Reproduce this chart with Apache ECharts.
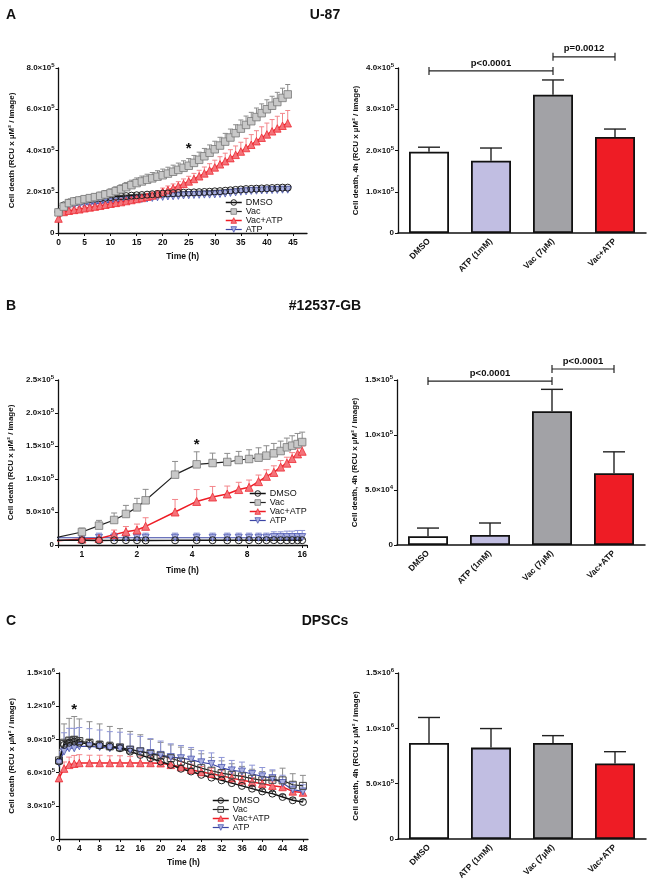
<!DOCTYPE html>
<html><head><meta charset="utf-8">
<script src="https://cdn.jsdelivr.net/npm/echarts@6/dist/echarts.min.js"></script>
<style>html,body{margin:0;padding:0;background:#fff}#c{width:650px;height:889px}</style>
</head><body><div id="c"></div>
<script>
// ---------- DATA ----------
const groups = ['DMSO', 'ATP (1mM)', 'Vac (7µM)', 'Vac+ATP'];
const legendNames = ['DMSO', 'Vac', 'Vac+ATP', 'ATP'];

// Panel A (U-87) time course
const aTime = [0,1,2,3,4,5,6,7,8,9,10,11,12,13,14,15,16,17,18,19,20,21,22,23,24,25,26,27,28,29,30,31,32,33,34,35,36,37,38,39,40,41,42,43,44];
const aDMSO = [1.02e5,1.34e5,1.48e5,1.54e5,1.58e5,1.61e5,1.64e5,1.66e5,1.69e5,1.71e5,1.74e5,1.76e5,1.78e5,1.79e5,1.81e5,1.83e5,1.84e5,1.86e5,1.88e5,1.89e5,1.91e5,1.92e5,1.93e5,1.94e5,1.95e5,1.96e5,1.97e5,1.98e5,1.99e5,2.00e5,2.02e5,2.03e5,2.05e5,2.07e5,2.09e5,2.11e5,2.13e5,2.14e5,2.15e5,2.16e5,2.17e5,2.18e5,2.19e5,2.20e5,2.20e5];
const aDMSOErr = [0.05e5,0.06e5,0.06e5,0.05e5,0.05e5,0.05e5,0.05e5,0.05e5,0.05e5,0.05e5,0.05e5,0.05e5,0.05e5,0.05e5,0.05e5,0.05e5,0.05e5,0.05e5,0.05e5,0.05e5,0.05e5,0.05e5,0.05e5,0.05e5,0.05e5,0.05e5,0.05e5,0.05e5,0.05e5,0.05e5,0.05e5,0.05e5,0.05e5,0.05e5,0.05e5,0.05e5,0.05e5,0.05e5,0.05e5,0.05e5,0.05e5,0.05e5,0.05e5,0.05e5,0.05e5];
const aVac = [1.00e5,1.28e5,1.45e5,1.53e5,1.58e5,1.64e5,1.69e5,1.74e5,1.80e5,1.87e5,1.94e5,2.03e5,2.12e5,2.22e5,2.32e5,2.42e5,2.50e5,2.58e5,2.65e5,2.73e5,2.80e5,2.88e5,2.97e5,3.06e5,3.16e5,3.26e5,3.40e5,3.55e5,3.72e5,3.89e5,4.06e5,4.24e5,4.43e5,4.63e5,4.84e5,5.06e5,5.24e5,5.42e5,5.62e5,5.81e5,6.00e5,6.17e5,6.35e5,6.55e5,6.72e5];
const aVacErr = [0.08e5,0.10e5,0.12e5,0.13e5,0.14e5,0.15e5,0.16e5,0.17e5,0.18e5,0.19e5,0.20e5,0.21e5,0.22e5,0.23e5,0.24e5,0.25e5,0.26e5,0.27e5,0.28e5,0.29e5,0.30e5,0.31e5,0.32e5,0.33e5,0.34e5,0.35e5,0.36e5,0.37e5,0.38e5,0.38e5,0.39e5,0.40e5,0.40e5,0.41e5,0.41e5,0.42e5,0.43e5,0.43e5,0.44e5,0.45e5,0.46e5,0.46e5,0.47e5,0.47e5,0.48e5];
const aVacATP = [0.70e5,1.02e5,1.08e5,1.12e5,1.15e5,1.20e5,1.24e5,1.28e5,1.32e5,1.37e5,1.42e5,1.46e5,1.50e5,1.55e5,1.60e5,1.65e5,1.70e5,1.76e5,1.82e5,1.89e5,2.00e5,2.08e5,2.17e5,2.27e5,2.38e5,2.50e5,2.62e5,2.75e5,2.89e5,3.03e5,3.18e5,3.33e5,3.48e5,3.63e5,3.79e5,3.95e5,4.12e5,4.28e5,4.45e5,4.62e5,4.78e5,4.93e5,5.07e5,5.20e5,5.32e5];
const aVacATPErr = [0.05e5,0.07e5,0.08e5,0.08e5,0.09e5,0.09e5,0.10e5,0.10e5,0.11e5,0.11e5,0.12e5,0.12e5,0.13e5,0.13e5,0.14e5,0.14e5,0.15e5,0.16e5,0.16e5,0.17e5,0.18e5,0.20e5,0.21e5,0.22e5,0.24e5,0.25e5,0.27e5,0.29e5,0.31e5,0.33e5,0.35e5,0.37e5,0.39e5,0.41e5,0.43e5,0.45e5,0.47e5,0.49e5,0.51e5,0.53e5,0.55e5,0.57e5,0.59e5,0.60e5,0.62e5];
const aATP = [0.94e5,1.18e5,1.28e5,1.33e5,1.36e5,1.39e5,1.41e5,1.43e5,1.45e5,1.47e5,1.50e5,1.52e5,1.54e5,1.57e5,1.60e5,1.63e5,1.65e5,1.67e5,1.70e5,1.73e5,1.75e5,1.77e5,1.78e5,1.80e5,1.82e5,1.83e5,1.84e5,1.85e5,1.86e5,1.86e5,1.87e5,1.89e5,1.91e5,1.94e5,1.97e5,2.00e5,2.02e5,2.04e5,2.05e5,2.06e5,2.07e5,2.08e5,2.09e5,2.10e5,2.10e5];
const aATPErr = [0.05e5,0.05e5,0.05e5,0.05e5,0.05e5,0.05e5,0.05e5,0.05e5,0.05e5,0.05e5,0.05e5,0.05e5,0.05e5,0.05e5,0.05e5,0.05e5,0.05e5,0.05e5,0.05e5,0.05e5,0.05e5,0.05e5,0.05e5,0.05e5,0.05e5,0.05e5,0.05e5,0.05e5,0.05e5,0.05e5,0.05e5,0.05e5,0.05e5,0.05e5,0.05e5,0.05e5,0.05e5,0.05e5,0.05e5,0.05e5,0.05e5,0.05e5,0.05e5,0.05e5,0.05e5];
const aXTicks = [0,5,10,15,20,25,30,35,40,45];
const aStar = [[25, 4.1e5]];

// Panel A bars
const aBar = [1.97e5, 1.75e5, 3.35e5, 2.33e5];
const aBarErr = [0.11e5, 0.31e5, 0.36e5, 0.19e5];
const aSigPairs = [[0, 2], [2, 3]];
const aSigY = [3.93e5, 4.27e5];
const aSigText = ['p<0.0001', 'p=0.0012'];

// Panel B (#12537-GB) time course (log2 time axis)
const bTime = [0.5,1,1.24,1.5,1.74,2,2.23,3.23,4.24,5.18,6.23,7.2,8.2,9.24,10.2,11.2,12.2,13.2,14.1,15.1,16];
const bDMSO = [7.0e3,7.2e3,7.0e3,7.1e3,7.3e3,7.2e3,7.0e3,7.1e3,7.3e3,7.2e3,7.1e3,7.2e3,7.3e3,7.1e3,7.2e3,7.3e3,7.2e3,7.1e3,7.3e3,7.2e3,7.2e3];
const bDMSOErr = [0,2e3,2e3,2e3,2e3,2e3,2e3,2e3,2e3,2e3,2e3,2e3,2e3,2e3,2e3,2e3,2e3,2e3,2e3,2e3,2e3];
const bVac = [2.0e3,1.97e4,2.93e4,3.79e4,4.70e4,5.70e4,6.77e4,1.066e5,1.222e5,1.242e5,1.258e5,1.288e5,1.303e5,1.323e5,1.354e5,1.389e5,1.424e5,1.48e5,1.505e5,1.53e5,1.56e5];
const bVacErr = [0,6e3,8e3,1.06e4,1.3e4,1.37e4,1.66e4,2.0e4,1.9e4,1.5e4,1.3e4,1.3e4,1.4e4,1.5e4,1.5e4,1.5e4,1.5e4,1.4e4,1.5e4,1.6e4,1.5e4];
const bVacATP = [3.0e3,9.0e3,1.0e4,1.57e4,2.0e4,2.27e4,2.83e4,5.0e4,6.6e4,7.27e4,7.73e4,8.4e4,8.74e4,9.6e4,1.04e5,1.10e5,1.18e5,1.24e5,1.31e5,1.38e5,1.42e5];
const bVacATPErr = [0,3e3,5e3,7e3,8e3,9e3,1.3e4,1.9e4,1.8e4,1.6e4,1.2e4,1.1e4,1.1e4,1.0e4,1.0e4,1.0e4,1.0e4,9e3,9e3,8e3,8e3];
const bATP = [1.1e4,1.1e4,1.1e4,1.1e4,1.1e4,1.1e4,1.1e4,1.1e4,1.1e4,1.1e4,1.1e4,1.1e4,1.1e4,1.1e4,1.1e4,1.2e4,1.2e4,1.2e4,1.2e4,1.2e4,1.2e4];
const bATPErr = [0,7e3,7e3,7e3,7e3,7e3,7e3,7e3,7e3,7e3,7e3,7e3,7e3,7e3,7e3,8e3,8e3,9e3,9e3,1.0e4,1.0e4];
const bXTicks = [1,2,4,8,16];
const bStar = [[4.24, 1.52e5]];

// Panel B bars
const bBar = [7.9e3, 9.1e3, 1.216e5, 6.53e4];
const bBarErr = [7.5e3, 1.09e4, 1.99e4, 1.94e4];
const bSigPairs = [[0, 2], [2, 3]];
const bSigY = [1.49e5, 1.60e5];
const bSigText = ['p<0.0001', 'p<0.0001'];

// Panel C (DPSCs) time course
const cTime = [0,1,2,3,4,6,8,10,12,14,16,18,20,22,24,26,28,30,32,34,36,38,40,42,44,46,48];
const cDMSO = [7.0e5,8.5e5,8.7e5,8.8e5,8.7e5,8.6e5,8.45e5,8.35e5,8.2e5,7.9e5,7.6e5,7.3e5,7.0e5,6.7e5,6.35e5,6.1e5,5.8e5,5.55e5,5.3e5,5.05e5,4.8e5,4.55e5,4.3e5,4.1e5,3.8e5,3.5e5,3.35e5];
const cDMSOErr = [0.3e5,0.4e5,0.45e5,0.45e5,0.45e5,0.4e5,0.4e5,0.4e5,0.35e5,0.35e5,0.35e5,0.3e5,0.3e5,0.3e5,0.3e5,0.3e5,0.25e5,0.25e5,0.25e5,0.25e5,0.25e5,0.2e5,0.2e5,0.2e5,0.2e5,0.2e5,0.2e5];
const cVac = [7.1e5,8.7e5,8.9e5,8.97e5,8.85e5,8.7e5,8.5e5,8.37e5,8.28e5,8.07e5,7.92e5,7.7e5,7.53e5,7.3e5,7.0e5,6.7e5,6.4e5,6.17e5,5.96e5,5.8e5,5.66e5,5.45e5,5.3e5,5.35e5,5.3e5,4.9e5,4.8e5];
const cVacErr = [1.0e5,1.7e5,2.0e5,2.1e5,2.0e5,1.9e5,1.9e5,1.8e5,1.7e5,1.65e5,1.5e5,1.3e5,1.2e5,1.2e5,1.3e5,1.4e5,1.3e5,1.2e5,1.1e5,1.0e5,0.9e5,0.85e5,0.8e5,0.8e5,1.1e5,1.0e5,0.95e5];
const cVacATP = [5.5e5,6.36e5,6.7e5,6.8e5,6.87e5,6.87e5,6.87e5,6.87e5,6.87e5,6.87e5,6.87e5,6.87e5,6.85e5,6.7e5,6.5e5,6.26e5,6.05e5,5.9e5,5.72e5,5.5e5,5.3e5,5.15e5,5.0e5,4.82e5,4.7e5,4.3e5,4.2e5];
const cVacATPErr = [0.5e5,0.6e5,0.7e5,0.75e5,0.75e5,0.7e5,0.7e5,0.65e5,0.65e5,0.6e5,0.6e5,0.6e5,0.55e5,0.55e5,0.5e5,0.5e5,0.5e5,0.5e5,0.45e5,0.45e5,0.45e5,0.4e5,0.4e5,0.4e5,0.4e5,0.35e5,0.35e5];
const cATP = [6.87e5,7.9e5,8.2e5,8.2e5,8.37e5,8.37e5,8.3e5,8.2e5,8.2e5,8.07e5,7.92e5,7.77e5,7.6e5,7.4e5,7.3e5,7.17e5,6.93e5,6.78e5,6.42e5,6.2e5,6.1e5,5.87e5,5.66e5,5.5e5,5.06e5,4.46e5,4.3e5];
const cATPErr = [1.0e5,1.7e5,1.8e5,1.8e5,1.7e5,1.6e5,1.55e5,1.5e5,1.45e5,1.4e5,1.35e5,1.3e5,1.25e5,1.2e5,1.15e5,1.1e5,1.05e5,1.0e5,0.95e5,0.9e5,0.85e5,0.8e5,0.8e5,0.75e5,0.7e5,0.65e5,0.6e5];
const cXTicks = [0,4,8,12,16,20,24,28,32,36,40,44,48];
const cStar = [[3, 1.17e6]];

// Panel C bars
const cBar = [8.68e5, 8.26e5, 8.68e5, 6.83e5];
const cBarErr = [2.3e5, 1.72e5, 0.66e5, 1.06e5];

// ---------- STYLE / BUILD ----------
const FONT = 'Liberation Sans, Arial, Helvetica, sans-serif';
const INK = '#111';
const barColors = ['#ffffff', '#c1bee2', '#a2a2a6', '#ee1c25'];
const downTri = 'path://M0,0 L10,0 L5,9 Z';

function sci(v) {
  if (v === 0) return '0';
  const e = Math.floor(Math.log10(v) + 1e-9);
  const m = v / Math.pow(10, e);
  return m.toFixed(1) + '×10{s|' + e + '}';
}
const supRich = { s: { fontSize: 6, fontWeight: 'bold', fontFamily: FONT, color: INK, verticalAlign: 'top', padding: [0, 0, 5, 0] } };

function yAx(gi, max, interval, name, gap) {
  return {
    gridIndex: gi, type: 'value', min: 0, max: max, interval: interval,
    name: name, nameLocation: 'middle', nameGap: gap, nameMoveOverlap: false,
    nameTextStyle: { fontSize: 8, fontWeight: 'bold', color: INK, fontFamily: FONT },
    axisLine: { show: true, lineStyle: { color: INK, width: 1.3 } },
    axisTick: { show: true, inside: false, length: 3, lineStyle: { color: INK, width: 1 } },
    axisLabel: { formatter: sci, fontSize: 8, fontWeight: 'bold', color: INK, fontFamily: FONT, margin: 4, rich: supRich },
    splitLine: { show: false }
  };
}
function xValAx(gi, max, interval, ticks) {
  return {
    gridIndex: gi, type: 'value', min: 0, max: max, interval: interval,
    name: 'Time (h)', nameLocation: 'middle', nameGap: 19, nameMoveOverlap: false,
    nameTextStyle: { fontSize: 8.5, fontWeight: 'bold', color: INK, fontFamily: FONT },
    axisLine: { show: true, onZero: false, lineStyle: { color: INK, width: 1.3 } },
    axisTick: { show: true, length: 3, lineStyle: { color: INK, width: 1 }, customValues: ticks },
    axisLabel: { fontSize: 8.5, fontWeight: 'bold', color: INK, fontFamily: FONT, margin: 5, customValues: ticks,
      formatter: v => (ticks.indexOf(v) >= 0 ? String(v) : '') },
    splitLine: { show: false }
  };
}
function xLogAx(gi, min, max, ticks) {
  return {
    gridIndex: gi, type: 'log', logBase: 2, min: min, max: max,
    name: 'Time (h)', nameLocation: 'middle', nameGap: 21, nameMoveOverlap: false,
    nameTextStyle: { fontSize: 8.5, fontWeight: 'bold', color: INK, fontFamily: FONT },
    axisLine: { show: true, onZero: false, lineStyle: { color: INK, width: 1.3 } },
    axisTick: { show: true, length: 3, lineStyle: { color: INK, width: 1 } },
    axisLabel: { fontSize: 8.5, fontWeight: 'bold', color: INK, fontFamily: FONT, margin: 5,
      formatter: v => { for (const t of ticks) { if (Math.abs(v - t) < 1e-6 * t) return String(t); } return ''; } },
    splitLine: { show: false }
  };
}
function xCatAx(gi) {
  return {
    gridIndex: gi, type: 'category', data: groups,
    axisLine: { show: true, lineStyle: { color: INK, width: 1.5 } },
    axisTick: { show: false },
    axisLabel: { interval: 0, rotate: 45, fontSize: 8.5, fontWeight: 'bold', color: INK, fontFamily: FONT, margin: 7 },
    splitLine: { show: false }
  };
}

const styles = {
  DMSO: { symbol: 'circle', item: { color: 'rgba(255,255,255,0)', borderColor: '#222', borderWidth: 1 }, line: { color: '#111', width: 1.5 }, err: '#444' },
  Vac: { symbol: 'rect', item: { color: '#c8c8c8', borderColor: '#777', borderWidth: 0.8 }, line: { color: '#222', width: 1.2 }, err: '#8c8c8c' },
  VacOpen: { symbol: 'rect', item: { color: 'rgba(255,255,255,0)', borderColor: '#444', borderWidth: 1 }, line: { color: '#222', width: 1.2 }, err: '#8c8c8c' },
  'Vac+ATP': { symbol: 'triangle', item: { color: '#f4737a', borderColor: '#ee2a32', borderWidth: 0.8 }, line: { color: '#ee1c25', width: 1.5 }, err: '#f3858a' },
  ATP: { symbol: downTri, item: { color: '#aab0e0', borderColor: '#4a55b0', borderWidth: 0.8 }, line: { color: '#3b45a5', width: 1.2 }, err: '#8e95d6' }
};

function lineSer(name, panel, gi, xs, ys, st, size) {
  return {
    name: name + '|' + panel, type: 'line', xAxisIndex: gi, yAxisIndex: gi,
    data: xs.map((x, i) => [x, ys[i]]),
    symbol: st.symbol, symbolSize: size, showSymbol: true, showAllSymbol: true,
    itemStyle: st.item, lineStyle: st.line, clip: true, animation: false, z: 3
  };
}
function errSer(gi, xs, ys, es, color, cap) {
  return {
    type: 'custom', xAxisIndex: gi, yAxisIndex: gi, animation: false, z: 2, silent: true, clip: true,
    data: xs.map((x, i) => [x, ys[i], es[i]]),
    encode: { x: 0, y: 1 },
    renderItem: function (params, api) {
      const x = api.value(0), y = api.value(1), e = api.value(2);
      if (!e) return null;
      const p0 = api.coord([x, y]), p1 = api.coord([x, y + e]);
      return { type: 'group', children: [
        { type: 'line', shape: { x1: p0[0], y1: p0[1], x2: p1[0], y2: p1[1] }, style: { stroke: color, lineWidth: 1 } },
        { type: 'line', shape: { x1: p1[0] - cap, y1: p1[1], x2: p1[0] + cap, y2: p1[1] }, style: { stroke: color, lineWidth: 1 } }
      ] };
    }
  };
}
function starSer(gi, pts) {
  return {
    type: 'custom', xAxisIndex: gi, yAxisIndex: gi, animation: false, z: 5, silent: true, clip: false,
    data: pts, encode: { x: 0, y: 1 },
    renderItem: function (params, api) {
      const p = api.coord([api.value(0), api.value(1)]);
      return { type: 'text', x: p[0], y: p[1], style: { text: '*', textAlign: 'center', textVerticalAlign: 'middle', verticalAlign: 'middle', fontSize: 15, fontWeight: 'bold', fontFamily: FONT, fill: INK } };
    }
  };
}
function barSer(gi, vals) {
  return {
    type: 'bar', xAxisIndex: gi, yAxisIndex: gi, barWidth: 40, animation: false, z: 2,
    data: vals.map((v, i) => ({ value: v, itemStyle: { color: barColors[i], borderColor: '#111', borderWidth: 1.8 } }))
  };
}
function barErrSer(gi, vals, errs) {
  return {
    type: 'custom', xAxisIndex: gi, yAxisIndex: gi, animation: false, z: 1, silent: true, clip: false,
    data: vals.map((v, i) => [i, v, errs[i]]), encode: { x: 0, y: 1 },
    renderItem: function (params, api) {
      const x = api.value(0), y = api.value(1), e = api.value(2);
      const p0 = api.coord([x, y]), p1 = api.coord([x, y + e]);
      return { type: 'group', children: [
        { type: 'line', shape: { x1: p0[0], y1: p0[1], x2: p1[0], y2: p1[1] }, style: { stroke: '#222', lineWidth: 1.4 } },
        { type: 'line', shape: { x1: p1[0] - 11, y1: p1[1], x2: p1[0] + 11, y2: p1[1] }, style: { stroke: '#222', lineWidth: 1.4 } }
      ] };
    }
  };
}
function sigSer(gi, pairs, ys, texts) {
  return {
    type: 'custom', xAxisIndex: gi, yAxisIndex: gi, animation: false, z: 5, silent: true, clip: false,
    data: pairs.map((p, i) => [p[0], p[1], ys[i]]), encode: { x: [0, 1], y: 2 },
    renderItem: function (params, api) {
      const a = api.coord([api.value(0), api.value(2)]);
      const b = api.coord([api.value(1), api.value(2)]);
      const t = texts[params.dataIndex];
      const s = { stroke: '#222', lineWidth: 1.2 };
      return { type: 'group', children: [
        { type: 'line', shape: { x1: a[0], y1: a[1], x2: b[0], y2: b[1] }, style: s },
        { type: 'line', shape: { x1: a[0], y1: a[1] - 4, x2: a[0], y2: a[1] + 4 }, style: s },
        { type: 'line', shape: { x1: b[0], y1: b[1] - 4, x2: b[0], y2: b[1] + 4 }, style: s },
        { type: 'text', x: (a[0] + b[0]) / 2, y: a[1] - 3, style: { text: t, textAlign: 'center', textVerticalAlign: 'bottom', verticalAlign: 'bottom', fontSize: 9.5, fontWeight: 'bold', fontFamily: FONT, fill: INK } }
      ] };
    }
  };
}
function legendFor(panel, left, top, vacStyle) {
  const st = { DMSO: styles.DMSO, Vac: vacStyle, 'Vac+ATP': styles['Vac+ATP'], ATP: styles.ATP };
  return {
    orient: 'vertical', left: left, top: top, itemWidth: 16, itemHeight: 7, itemGap: 0,
    selectedMode: false, padding: 0,
    textStyle: { fontSize: 9, lineHeight: 8.7, color: INK, fontFamily: FONT, padding: [0, 0, 0, -1] },
    formatter: n => n.split('|')[0],
    data: legendNames.map(n => ({
      name: n + '|' + panel,
      itemStyle: { color: st[n].item.color, borderColor: st[n].item.borderColor, borderWidth: st[n].item.borderWidth },
      lineStyle: { color: st[n].line.color, width: st[n].line.width }
    }))
  };
}

const series = [];
// A line (grid 0)
series.push(errSer(0, aTime, aATP, aATPErr, styles.ATP.err, 2.5));
series.push(errSer(0, aTime, aDMSO, aDMSOErr, styles.DMSO.err, 2.5));
series.push(errSer(0, aTime, aVacATP, aVacATPErr, styles['Vac+ATP'].err, 2.5));
series.push(errSer(0, aTime, aVac, aVacErr, styles.Vac.err, 2.5));
series.push(lineSer('ATP', 'A', 0, aTime, aATP, styles.ATP, 7));
series.push(lineSer('Vac+ATP', 'A', 0, aTime, aVacATP, styles['Vac+ATP'], 7.5));
series.push(lineSer('DMSO', 'A', 0, aTime, aDMSO, styles.DMSO, 7));
series.push(lineSer('Vac', 'A', 0, aTime, aVac, styles.Vac, 7.5));
series.push(starSer(0, aStar));
// A bar (grid 1)
series.push(barErrSer(1, aBar, aBarErr));
series.push(barSer(1, aBar));
series.push(sigSer(1, aSigPairs, aSigY, aSigText));
// B line (grid 2)
series.push(errSer(2, bTime, bATP, bATPErr, styles.ATP.err, 3));
series.push(errSer(2, bTime, bDMSO, bDMSOErr, styles.DMSO.err, 3));
series.push(errSer(2, bTime, bVacATP, bVacATPErr, styles['Vac+ATP'].err, 3));
series.push(errSer(2, bTime, bVac, bVacErr, styles.Vac.err, 3));
series.push(lineSer('ATP', 'B', 2, bTime, bATP, styles.ATP, 7));
series.push(lineSer('Vac+ATP', 'B', 2, bTime, bVacATP, styles['Vac+ATP'], 8));
series.push(lineSer('DMSO', 'B', 2, bTime, bDMSO, styles.DMSO, 7));
series.push(lineSer('Vac', 'B', 2, bTime, bVac, styles.Vac, 7.5));
series.push(starSer(2, bStar));
// B bar (grid 3)
series.push(barErrSer(3, bBar, bBarErr));
series.push(barSer(3, bBar));
series.push(sigSer(3, bSigPairs, bSigY, bSigText));
// C line (grid 4)
series.push(errSer(4, cTime, cVac, cVacErr, styles.Vac.err, 3));
series.push(errSer(4, cTime, cATP, cATPErr, styles.ATP.err, 3));
series.push(errSer(4, cTime, cVacATP, cVacATPErr, styles['Vac+ATP'].err, 3));
series.push(errSer(4, cTime, cDMSO, cDMSOErr, styles.DMSO.err, 3));
series.push(lineSer('Vac+ATP', 'C', 4, cTime, cVacATP, styles['Vac+ATP'], 7.5));
series.push(lineSer('ATP', 'C', 4, cTime, cATP, styles.ATP, 7));
series.push(lineSer('Vac', 'C', 4, cTime, cVac, styles.VacOpen, 7));
series.push(lineSer('DMSO', 'C', 4, cTime, cDMSO, styles.DMSO, 7));
series.push(starSer(4, cStar));
// C bar (grid 5)
series.push(barErrSer(5, cBar, cBarErr));
series.push(barSer(5, cBar));

const titleStyle = { fontSize: 14, fontWeight: 'bold', color: INK, fontFamily: FONT };
const option = {
  animation: false,
  backgroundColor: '#fff',
  title: [
    { text: 'A', left: 1, top: 3, textStyle: titleStyle },
    { text: 'U-87', left: 'center', top: 3, textStyle: titleStyle },
    { text: 'B', left: 1, top: 294, textStyle: titleStyle },
    { text: '#12537-GB', left: 'center', top: 294, textStyle: titleStyle },
    { text: 'C', left: 1, top: 609, textStyle: titleStyle },
    { text: 'DPSCs', left: 'center', top: 609, textStyle: titleStyle }
  ],
  legend: [legendFor('A', 225, 198, styles.Vac), legendFor('B', 249, 489, styles.Vac), legendFor('C', 212, 796, styles.VacOpen)],
  grid: [
    { left: 58.5, top: 68, width: 248.5, height: 165, outerBoundsMode: 'none' },
    { left: 398, top: 68, width: 248, height: 165, outerBoundsMode: 'none' },
    { left: 58, top: 380, width: 249, height: 165, outerBoundsMode: 'none' },
    { left: 397, top: 380, width: 248, height: 165, outerBoundsMode: 'none' },
    { left: 59, top: 673, width: 249, height: 166, outerBoundsMode: 'none' },
    { left: 398, top: 673, width: 248, height: 166, outerBoundsMode: 'none' }
  ],
  xAxis: [
    xValAx(0, 47.7, 5, aXTicks),
    xCatAx(1),
    xLogAx(2, 0.74, 17, bXTicks),
    xCatAx(3),
    xValAx(4, 49, 4, cXTicks),
    xCatAx(5)
  ],
  yAxis: [
    yAx(0, 8e5, 2e5, 'Cell death (RCU x µM² / image)', 43),
    yAx(1, 4e5, 1e5, 'Cell death, 4h (RCU x µM² / image)', 38),
    yAx(2, 2.5e5, 5e4, 'Cell death (RCU x µM² / image)', 43),
    yAx(3, 1.5e5, 5e4, 'Cell death, 4h (RCU x µM² / image)', 38),
    yAx(4, 1.5e6, 3e5, 'Cell death (RCU x µM² / image)', 43),
    yAx(5, 1.5e6, 5e5, 'Cell death, 4h (RCU x µM² / image)', 38)
  ],
  series: series
};
const chart = echarts.init(document.getElementById('c'), null, { renderer: 'canvas' });
chart.setOption(option);
</script>
</body></html>
